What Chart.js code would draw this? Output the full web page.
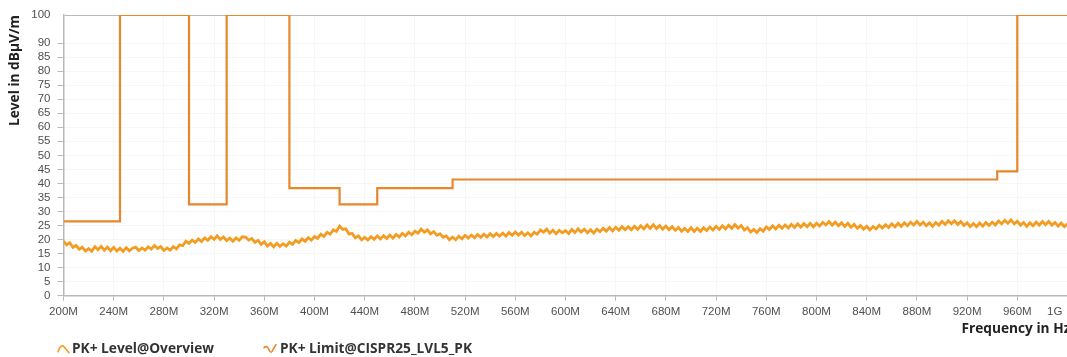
<!DOCTYPE html>
<html>
<head>
<meta charset="utf-8">
<script src="https://cdn.jsdelivr.net/npm/chart.js@4"></script>
<style>
  html, body { margin: 0; padding: 0; background: #fff; overflow: hidden; }
  #wrap { position: relative; width: 1100px; height: 357px; }
</style>
</head>
<body>
<div id="wrap"><canvas id="c"></canvas></div>
<script>
// Sweep definition of the overview scan (MHz)
const sweepStartMHz = 200;
const sweepStepMHz = 2.5;

// PK+ level trace, dBµV/m, one value per sweep step
const levelValues = [
  19.4, 18.1, 18.9, 17.2, 17.9, 16.5, 17.3, 15.9, 16.8, 15.8, 17.5, 16.4, 17.6, 16.2, 17.3, 16.0, 17.2, 15.9, 16.9, 15.8,
  17.1, 16.0, 16.9, 17.3, 16.1, 17.0, 16.2, 17.4, 16.6, 17.9, 16.8, 17.5, 16.1, 17.0, 16.2, 17.5, 16.7, 18.1, 17.8, 19.4,
  18.6, 19.8, 19.0, 20.2, 19.3, 20.6, 19.7, 21.0, 20.1, 21.3, 20.0, 20.9, 19.6, 20.5, 19.4, 20.6, 19.7, 21.0, 20.9, 19.8,
  20.4, 19.0, 19.7, 18.3, 19.2, 17.7, 18.6, 17.4, 18.7, 17.6, 18.5, 17.7, 19.1, 18.3, 19.7, 18.9, 20.2, 19.4, 20.7, 19.8,
  21.1, 20.4, 21.9, 21.1, 22.6, 21.9, 23.5, 22.9, 24.8, 23.6, 23.8, 21.9, 22.2, 20.6, 21.3, 19.9, 20.8, 19.8, 21.0, 20.1,
  21.3, 20.2, 21.4, 20.4, 21.6, 20.5, 21.8, 20.9, 22.2, 21.3, 22.6, 21.7, 23.0, 22.3, 23.7, 22.6, 23.4, 22.0, 22.8, 21.5,
  22.1, 20.8, 21.3, 19.9, 20.9, 19.9, 21.2, 20.3, 21.5, 20.5, 21.6, 20.6, 21.8, 20.8, 21.9, 20.9, 22.1, 21.1, 22.2, 21.2,
  22.3, 21.2, 22.5, 21.5, 22.7, 21.6, 22.6, 21.4, 22.4, 21.3, 22.6, 21.9, 23.4, 22.6, 23.7, 22.3, 23.3, 22.1, 23.3, 22.4,
  23.2, 22.1, 23.6, 22.5, 23.8, 22.7, 23.7, 22.4, 23.5, 22.3, 23.7, 22.8, 24.0, 23.0, 24.3, 23.1, 24.4, 23.3, 24.6, 23.5,
  24.6, 23.5, 24.7, 23.6, 24.9, 23.8, 25.2, 24.0, 25.3, 23.9, 25.0, 23.7, 24.8, 23.5, 24.6, 23.3, 24.3, 23.0, 24.0, 22.9,
  24.2, 22.9, 24.0, 22.9, 24.2, 23.2, 24.5, 23.4, 24.7, 23.6, 24.9, 23.8, 25.1, 24.0, 25.3, 24.1, 25.0, 23.4, 24.2, 22.7,
  23.6, 22.5, 23.9, 23.0, 24.5, 23.6, 24.9, 23.8, 25.1, 24.0, 25.2, 24.1, 25.4, 24.3, 25.6, 24.4, 25.7, 24.6, 25.8, 24.5,
  25.8, 24.8, 26.1, 25.2, 26.4, 25.1, 26.2, 24.9, 26.0, 24.7, 25.8, 24.4, 25.4, 24.0, 25.0, 23.7, 24.7, 23.4, 24.6, 23.8,
  25.1, 24.1, 25.3, 24.3, 25.6, 24.5, 25.8, 24.7, 26.0, 24.9, 26.2, 25.2, 26.5, 25.2, 26.2, 24.9, 26.0, 24.7, 26.1, 25.1,
  26.5, 25.4, 26.7, 25.6, 26.7, 25.4, 26.4, 25.0, 26.0, 24.6, 25.7, 24.6, 25.9, 24.8, 26.1, 25.0, 26.2, 25.2, 26.6, 25.6,
  26.9, 25.8, 27.0, 25.6, 26.5, 25.1, 26.1, 24.7, 26.0, 24.9, 26.2, 25.1, 26.4, 25.3, 26.5, 25.1, 26.1, 24.8, 25.9, 24.6, 25.6
];

// CISPR 25 class 5 peak limit: each level holds from its frequency to the next one
const limitFreqMHz = [200, 245, 300, 330, 380, 420, 450, 510, 944, 960, 1000];
const limitValues  = [26.5, 100, 32.5, 100, 38.3, 32.5, 38.3, 41.4, 44.3, 100, 100];

// Axis ticks
const xTickValues = [200, 240, 280, 320, 360, 400, 440, 480, 520, 560, 600, 640, 680, 720, 760, 800, 840, 880, 920, 960, 1000];
const xTickLabels = ['200M', '240M', '280M', '320M', '360M', '400M', '440M', '480M', '520M', '560M', '600M', '640M', '680M', '720M', '760M', '800M', '840M', '880M', '920M', '960M', '1G'];
const yTickValues = [0, 5, 10, 15, 20, 25, 30, 35, 40, 45, 50, 55, 60, 65, 70, 75, 80, 85, 90, 100];

const levelLabel = 'PK+ Level@Overview';
const limitLabel = 'PK+ Limit@CISPR25_LVL5_PK';
const xTitle = 'Frequency in Hz';
const yTitle = 'Level in dBµV/m';

const levelColor = '#F39C22';
const limitColor = '#E8862C';
const axisColor = '#b9b9b9';

const levelPoints = levelValues.map((v, i) => ({ x: sweepStartMHz + i * sweepStepMHz, y: v }));
const limitPoints = limitFreqMHz.map((f, i) => ({ x: f, y: limitValues[i] }));

// Small wave glyph used in the legend
function drawWave(ctx, x, y, color, kind) {
  ctx.save();
  ctx.strokeStyle = color;
  ctx.lineWidth = 1.6;
  ctx.lineCap = 'round';
  ctx.beginPath();
  if (kind === 'level') {
    ctx.moveTo(x, y + 3);
    ctx.quadraticCurveTo(x + 3, y - 5, x + 6, y - 2);
    ctx.lineTo(x + 11, y + 4);
  } else {
    ctx.moveTo(x, y - 1);
    ctx.quadraticCurveTo(x + 3, y - 4, x + 5, y + 1);
    ctx.quadraticCurveTo(x + 7, y + 6, x + 9, y + 1);
    ctx.lineTo(x + 12, y - 4);
  }
  ctx.stroke();
  ctx.restore();
}

const labelFont = 'bold 13.7px "Open Sans", sans-serif';

const decorPlugin = {
  id: 'decor',
  afterDraw(chart) {
    const { ctx, chartArea } = chart;
    ctx.save();
    // x axis title, right side
    ctx.font = labelFont;
    ctx.fillStyle = '#222';
    ctx.textBaseline = 'middle';
    ctx.textAlign = 'left';
    ctx.fillText(xTitle, chartArea.right - 106, chartArea.bottom + 33);

    // legend row
    const ly = chartArea.bottom + 53;
    ctx.fillStyle = '#333';
    drawWave(ctx, 58, ly, levelColor, 'level');
    ctx.fillText(levelLabel, 72, ly);
    drawWave(ctx, 264, ly, limitColor, 'limit');
    ctx.fillText(limitLabel, 280, ly);
    ctx.restore();
  }
};

const tickFont = { family: '"Liberation Sans", Arial, sans-serif', size: 11.5 };

new Chart(document.getElementById('c'), {
  type: 'line',
  data: {
    datasets: [
      {
        label: levelLabel,
        data: levelPoints,
        borderColor: levelColor,
        borderWidth: 2.8,
        borderJoinStyle: 'miter',
        pointRadius: 0,
        tension: 0,
        order: 2
      },
      {
        label: limitLabel,
        data: limitPoints,
        borderColor: limitColor,
        borderWidth: 2.2,
        pointRadius: 0,
        stepped: 'before',
        order: 1
      }
    ]
  },
  options: {
    responsive: true,
    maintainAspectRatio: false,
    animation: false,
    layout: { padding: { left: 0, right: 32.5, top: 15, bottom: 0 } },
    plugins: {
      legend: { display: false },
      tooltip: { enabled: false }
    },
    scales: {
      x: {
        type: 'linear',
        min: 200,
        max: 1000,
        afterBuildTicks(scale) { scale.ticks = xTickValues.map(v => ({ value: v })); },
        afterFit(scale) { scale.height = 61.3; },
        ticks: {
          autoSkip: false,
          maxRotation: 0,
          padding: 4,
          color: '#505050',
          font: tickFont,
          // the last label is kept inside the visible edge
          callback: (v) => {
            const label = xTickLabels[xTickValues.indexOf(v)];
            return v === 1000 ? label + '        ' : label;
          }
        },
        grid: {
          color: 'rgba(0,0,0,0.03)',
          tickColor: axisColor,
          tickLength: 5
        },
        border: { color: axisColor, width: 1.5 }
      },
      y: {
        type: 'linear',
        min: 0,
        max: 100,
        afterBuildTicks(scale) { scale.ticks = yTickValues.map(v => ({ value: v })); },
        afterFit(scale) { scale.width = 63.5; },
        ticks: {
          autoSkip: false,
          padding: 7,
          color: '#505050',
          font: tickFont
        },
        grid: {
          color: (c) => (c.tick && c.tick.value === 100 ? axisColor : 'rgba(0,0,0,0.03)'),
          tickColor: (c) => (c.tick && c.tick.value === 100 ? 'rgba(0,0,0,0)' : axisColor),
          tickLength: 6
        },
        border: { color: axisColor, width: 1.5 },
        title: {
          display: true,
          text: yTitle,
          align: 'end',
          color: '#222',
          padding: { top: 7, bottom: 0 },
          font: { family: '"Open Sans", sans-serif', size: 13.7, weight: 'bold' }
        }
      }
    }
  },
  plugins: [decorPlugin]
});
</script>
</body>
</html>
